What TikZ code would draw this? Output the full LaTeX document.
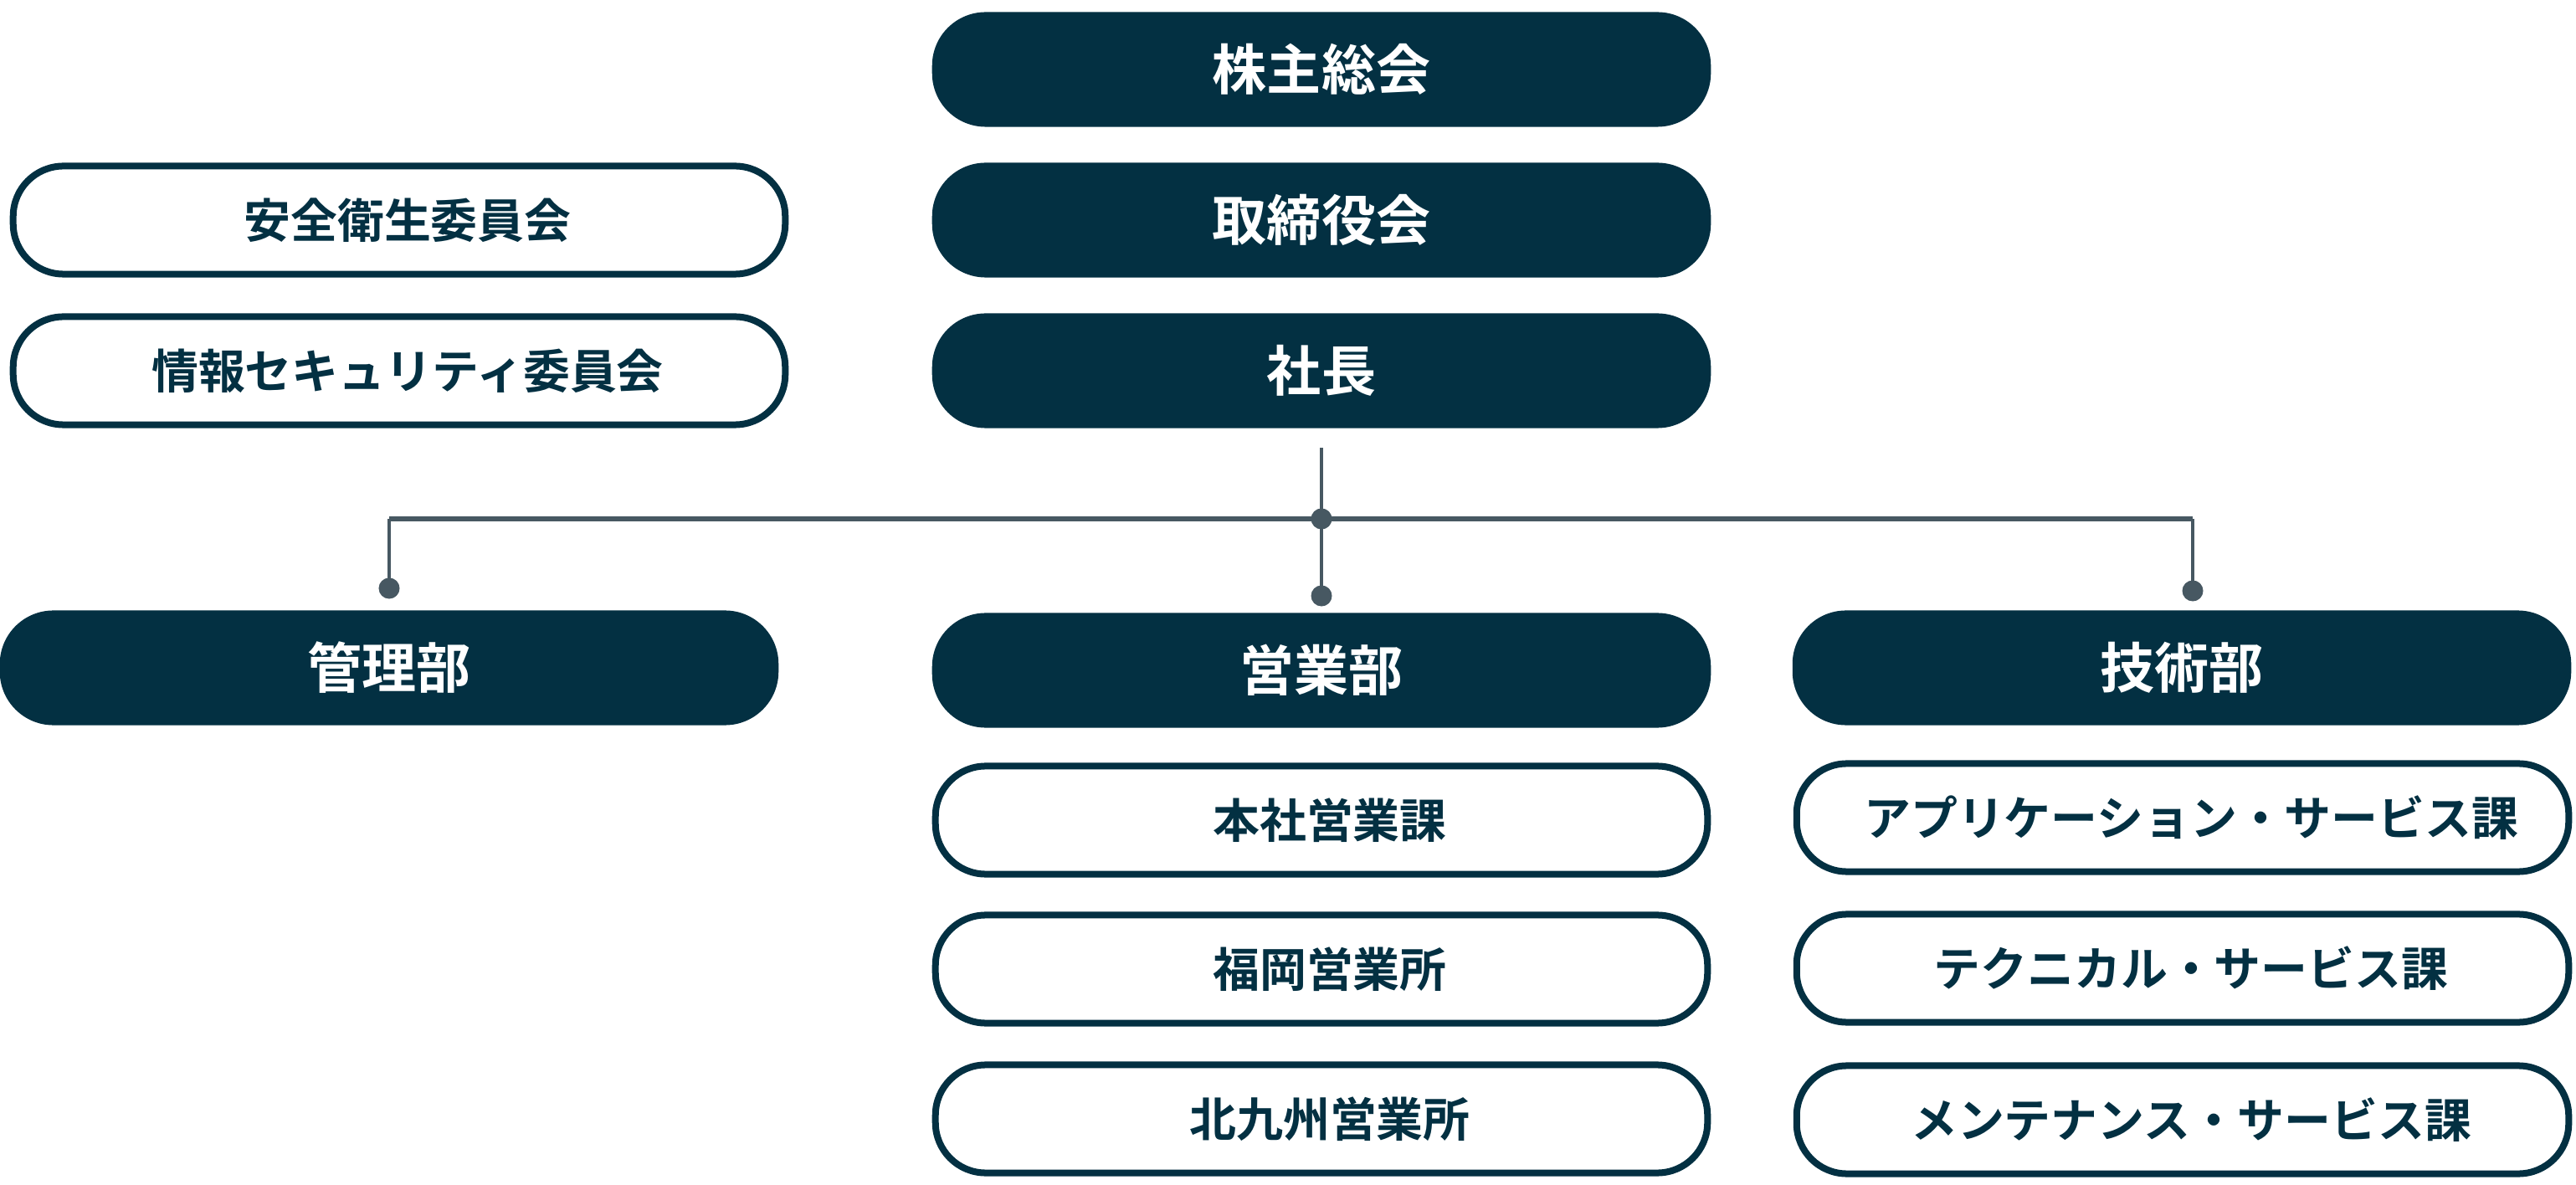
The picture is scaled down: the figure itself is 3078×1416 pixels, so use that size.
\documentclass[tikz,border=0pt]{standalone}
\usepackage{fontspec}
\setmainfont{Noto Sans CJK JP}[BoldFont={* Bold}]
\usepackage{xcolor}
\definecolor{navy}{RGB}{3,48,66}
\definecolor{slate}{RGB}{71,88,98}
\usepackage{tikz}
\usetikzlibrary{calc,positioning}
\tikzset{
  head/.style={rectangle, fill=navy, text=white, minimum width=9.3cm, minimum height=1.37cm, rounded corners=0.64cm, font=\fontsize{18.5}{20}\selectfont\bfseries, inner sep=0pt},
  sub/.style={rectangle, draw=navy, line width=0.08cm, fill=white, text=navy, minimum width=9.22cm, minimum height=1.29cm, rounded corners=0.6cm, font=\fontsize{15.9}{18}\selectfont\bfseries, inner sep=0pt, execute at begin node=\hspace*{0.2cm}},
  dot/.style={circle, fill=slate, minimum size=0.25cm, inner sep=0pt},
  conn/.style={draw=slate, line width=0.04cm},
  bus/.style={draw=slate, line width=0.06cm},
}
\begin{document}
\begin{tikzpicture}[x=0.01cm, y=-0.01cm]
  \useasboundingbox (0,0) rectangle (3078,1416);

  %top
  \node[head] (kabu) at (1579,83) {株主総会};
  \node[head] (torishimari) at (1579,263) {取締役会};
  \node[head] (shacho) at (1579,443) {社長};

  %committees
  \node[sub] (anzen) at (477,263) {安全衛生委員会};
  \node[sub] (joho) at (477,443) {情報セキュリティ委員会};

  %departments
  \node[head] (kanri) at (465,798) {管理部};
  \node[head] (eigyo) at (1579,801) {営業部};
  \node[head] (gijutsu) at (2607,798) {技術部};

  %sales sections
  \node[sub] (honsha) at (1579,980) {本社営業課};
  \node[sub] (fukuoka) at (1579,1158) {福岡営業所};
  \node[sub] (kitakyu) at (1579,1337) {北九州営業所};

  %technical sections
  \node[sub] (app) at (2608,977) {アプリケーション・サービス課};
  \node[sub] (tech) at (2608,1157) {テクニカル・サービス課};
  \node[sub] (maint) at (2608,1338) {メンテナンス・サービス課};

  %connectors
  \node[dot] (hub) at (1579,620) {};
  \node[dot] (dkanri) at (465,703) {};
  \node[dot] (deigyo) at (1579,712) {};
  \node[dot] (dgijutsu) at (2620,706) {};

  \draw[bus] (dkanri |- hub) -- (dgijutsu |- hub);
  \draw[conn, shorten <=0.23cm] (shacho.south) -- (hub.center);
  \draw[conn] (dkanri |- hub) -- (dkanri.center);
  \draw[conn] (hub.center) -- (deigyo.center);
  \draw[conn] (dgijutsu |- hub) -- (dgijutsu.center);
\end{tikzpicture}
\end{document}
